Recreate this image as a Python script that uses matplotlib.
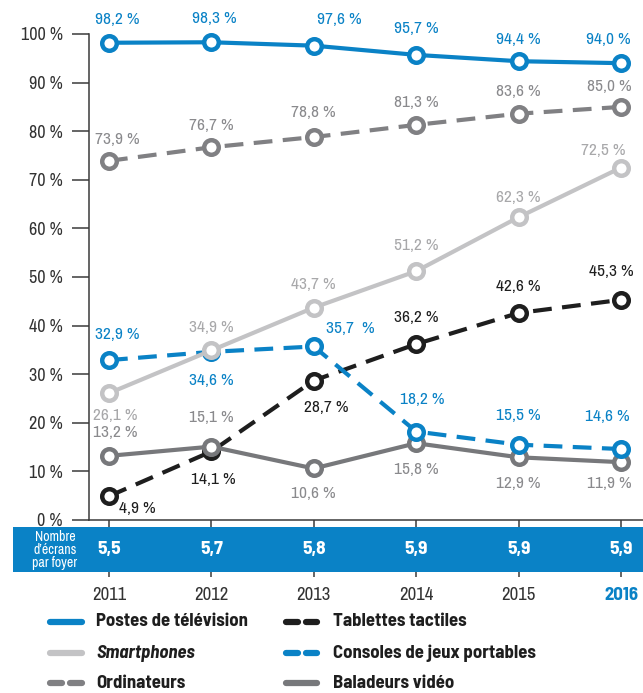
import matplotlib
matplotlib.use("Agg")
import matplotlib.pyplot as plt
from matplotlib.patches import Rectangle
from matplotlib.lines import Line2D

plt.rcParams['font.family'] = ['Archivo Narrow', 'DejaVu Sans']
plt.rcParams['font.stretch'] = 'condensed'
GRAS = ['Barlow Semi Condensed', 'DejaVu Sans']

# --- donnees ---
annees = ['2011', '2012', '2013', '2014', '2015', '2016']
ecrans_par_foyer = ['5,5', '5,7', '5,8', '5,9', '5,9', '5,9']

tv = [98.2, 98.3, 97.6, 95.7, 94.4, 94.0]
ordinateurs = [73.9, 76.7, 78.8, 81.3, 83.6, 85.0]
smartphones = [26.1, 34.9, 43.7, 51.2, 62.3, 72.5]
tablettes = [4.9, 14.1, 28.7, 36.2, 42.6, 45.3]
consoles = [32.9, 34.6, 35.7, 18.2, 15.5, 14.6]
baladeurs = [13.2, 15.1, 10.6, 15.8, 12.9, 11.9]

y_ticks = [0, 10, 20, 30, 40, 50, 60, 70, 80, 90, 100]

BLEU = '#0a82c6'
W, H = 643, 693

fig = plt.figure(figsize=(W / 100, H / 100), dpi=100)
ax = fig.add_axes([89 / W, 1 - 520 / H, (W - 89) / W, (520 - 34) / H])

x = list(range(len(annees)))

# (valeurs, couleur ligne, couleur etiquette, style, zorder, decalages etiquettes en px (dx, dy vers le bas))
series = [
    (tablettes, '#1e1e1e', '#1e1e1e', 'dash', 3,
     [(28, 12), (2, 28), (12, 27), (0, -27), (0, -26), (-10, -28)]),
    (baladeurs, '#77787b', '#8a8a8d', 'solid', 4,
     [(6, -23), (0, -29), (0, 25), (0, 26), (0, 26), (-12, 21)]),
    (consoles, BLEU, BLEU, 'dash', 5,
     [(8, -26), (0, 29), (37, -18), (6, -32), (0, -29), (-14, -33)]),
    (smartphones, '#c3c3c5', '#a8a8aa', 'solid', 6,
     [(6, 22), (0, -23), (0, -23), (0, -26), (0, -20), (-18, -17)]),
    (ordinateurs, '#808083', '#8a8a8d', 'dash', 7,
     [(8, -21), (0, -22), (0, -25), (0, -22), (0, -22), (-12, -20)]),
    (tv, BLEU, BLEU, 'solid', 8,
     [(8, -23), (3, -24), (26, -26), (0, -26), (0, -22), (-13, -24)]),
]

for vals, col, lcol, style, z, offs in series:
    line, = ax.plot(x, vals, color=col, lw=3, zorder=z, clip_on=False,
                    marker='o', markersize=10.5, markerfacecolor='white',
                    markeredgecolor=col, markeredgewidth=3.2)
    if style == 'dash':
        line.set_dashes((4.5, 2.5))
    for i, v in enumerate(vals):
        lab = ('%.1f %%' % v).replace('.', ',')
        if vals is consoles and i == 2:
            lab = lab.replace(' %', '  %')
        dx, dy = offs[i]
        ax.annotate(lab, (x[i], v), xytext=(dx * 0.72, -dy * 0.72),
                    textcoords='offset points', ha='center', va='center',
                    fontsize=12.5, color=lcol, zorder=10, annotation_clip=False)

ax.set_xlim(-20 / 102.4, 5 + 22 / 102.4)
ax.set_ylim(0, 100)

for s in ['top', 'right']:
    ax.spines[s].set_visible(False)
for s in ['left', 'bottom']:
    ax.spines[s].set_color('#3a3a3a')
    ax.spines[s].set_linewidth(1.1)

ax.set_yticks(y_ticks)
ax.set_yticklabels(['%d %%' % t for t in y_ticks], fontsize=13, color='#333333')
ax.tick_params(axis='y', length=12, width=1.1, color='#3a3a3a', pad=7)

ax.set_xticks(x)
ax.set_xticklabels(annees, fontsize=13.5, color='#333333')
ax.tick_params(axis='x', length=41, width=1.1, color='#3a3a3a', pad=7)
last = ax.get_xticklabels()[-1]
last.set_color(BLEU)
last.set_fontweight('bold')
last.set_family(GRAS)

# bandeau bleu
fig.patches.append(Rectangle((13 / W, 1 - 572 / H), 1 - 13 / W, 45 / H,
                             transform=fig.transFigure, facecolor=BLEU,
                             edgecolor='none', zorder=5))
fig.text(55 / W, 1 - 550 / H, 'Nombre\nd\u2019écrans\npar foyer', color='white',
         fontsize=10, ha='center', va='center', linespacing=0.95, zorder=6)
for i, v in enumerate(ecrans_par_foyer):
    px = ax.transData.transform((x[i], 0))[0] / W
    fig.text(px, 1 - 550 / H, v, color='white', fontsize=14, fontweight='bold',
             family=GRAS, ha='center', va='center', zorder=6)

# legende
legende = [
    ('Postes de télévision', BLEU, False, 'normal', 0, 0),
    ('Smartphones', '#c3c3c5', False, 'italic', 0, 1),
    ('Ordinateurs', '#808083', True, 'normal', 0, 2),
    ('Tablettes tactiles', '#1e1e1e', True, 'normal', 1, 0),
    ('Consoles de jeux portables', BLEU, True, 'normal', 1, 1),
    ('Baladeurs vidéo', '#77787b', False, 'normal', 1, 2),
]
col_x = [(47, 85, 96), (283, 320, 333)]
row_y = [622, 653, 683]
for lab, col, dash, st, c, r in legende:
    x0, x1, xt = col_x[c]
    y = 1 - row_y[r] / H
    if dash:
        segs = [(x0 + 3, (x0 + x1) / 2 - 4), ((x0 + x1) / 2 + 4, x1 - 3)]
    else:
        segs = [(x0 + 3, x1 - 3)]
    for a, b in segs:
        fig.add_artist(Line2D([a / W, b / W], [y, y], transform=fig.transFigure,
                              color=col, lw=4.5, solid_capstyle='round'))
    fig.text(xt / W, y, lab, fontsize=13.5, fontweight='bold', style=st,
             family=GRAS, color='#1e1e1e', ha='left', va='center')

fig.savefig('out.png', dpi=100)
